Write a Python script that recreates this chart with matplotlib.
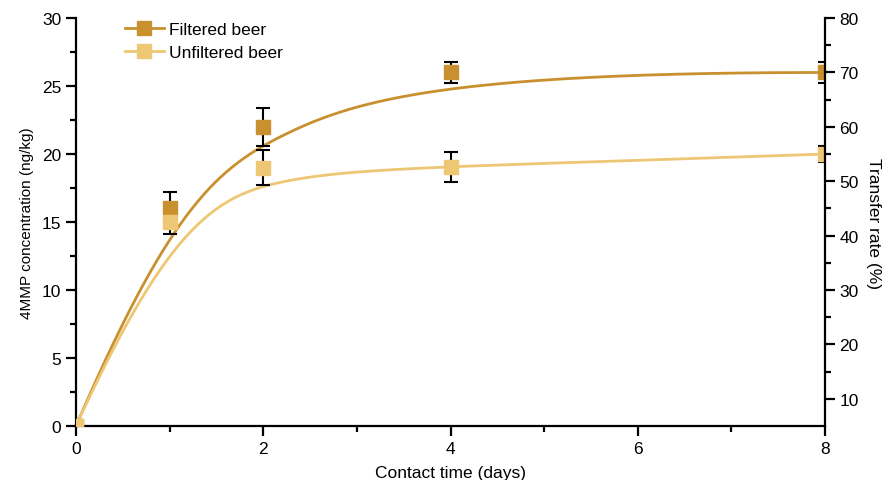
import numpy as np
import matplotlib.pyplot as plt

plt.rcParams['font.family'] = ['Liberation Sans', 'DejaVu Sans']

days = [0, 1, 2, 4, 8]
filtered = [0, 16, 22, 26, 26]
filtered_err = [0, 1.2, 1.4, 0.75, 0.77]
unfiltered = [0, 15, 19, 19.05, 20]
unfiltered_err = [0, 0.85, 1.3, 1.1, 0.6]

DARK = '#C8902F'
LIGHT = '#EDC773'


def bspline(xs, ys, k=3, n=400):
    # clamped cubic B-spline, data points used as control points (Origin "B-Spline" connect)
    pts = np.column_stack([xs, ys]).astype(float)
    m = len(pts)
    inner = np.linspace(0, 1, m - k + 1)[1:-1]
    knots = np.concatenate([np.zeros(k + 1), inner, np.ones(k + 1)])
    out = []
    for t in np.linspace(0, 1, n):
        i = np.searchsorted(knots, t, side='right') - 1
        i = min(i, m - 1)
        d = [pts[j].copy() for j in range(i - k, i + 1)]
        for r in range(1, k + 1):
            for j in range(k, r - 1, -1):
                den = knots[j + 1 + i - r] - knots[j + i - k]
                a = 0 if den == 0 else (t - knots[j + i - k]) / den
                d[j] = (1 - a) * d[j - 1] + a * d[j]
        out.append(d[k])
    out = np.array(out)
    return out[:, 0], out[:, 1]


fig = plt.figure(figsize=(8.88, 4.81), dpi=100)
ax = fig.add_axes([0.0856, 0.1123, 0.8435, 0.848])

for y, e, c, lab in [(filtered, filtered_err, DARK, 'Filtered beer'),
                     (unfiltered, unfiltered_err, LIGHT, 'Unfiltered beer')]:
    bx, by = bspline(days, y)
    ax.plot(bx, by, color=c, lw=2, zorder=2)
    ax.errorbar(days, y, yerr=e, fmt='none', ecolor='black', elinewidth=1.5,
                capsize=5, capthick=1.5, zorder=3)
    ax.plot(days, y, 's', color=c, ms=9.5, zorder=4)
    ax.plot([], [], '-s', color=c, ms=9.5, lw=2, label=lab)

ax.set_xlim(0, 8)
ax.set_ylim(0, 30)
ax.set_xticks([0, 2, 4, 6, 8])
ax.set_xticks([1, 3, 5, 7], minor=True)
ax.set_yticks(np.arange(0, 31, 5))
ax.set_yticks(np.arange(2.5, 30, 5), minor=True)
ax.spines['top'].set_visible(False)
ax.spines['right'].set_visible(False)
for s in ['left', 'bottom']:
    ax.spines[s].set_linewidth(1.6)
ax.tick_params(which='major', length=7, width=1.6, labelsize=12.5)
ax.tick_params(which='minor', length=4, width=1.6)
ax.set_xlabel('Contact time (days)', fontsize=12.5, labelpad=7)
ax.set_ylabel('4MMP concentration (ng/kg)', fontsize=11, labelpad=6)
ax.legend(loc='upper left', bbox_to_anchor=(0.045, 1.03), frameon=False,
          fontsize=12.5, handlelength=2.2, handletextpad=0.3, labelspacing=0.5)

ax2 = ax.twinx()
ax2.set_ylim(5, 80)
ax2.set_yticks(np.arange(10, 81, 10))
ax2.set_yticks(np.arange(15, 80, 10), minor=True)
for s in ['top', 'left', 'bottom']:
    ax2.spines[s].set_visible(False)
ax2.spines['right'].set_linewidth(1.6)
ax2.tick_params(which='major', length=7, width=1.6, labelsize=12.5)
ax2.tick_params(which='minor', length=4, width=1.6)
ax2.set_ylabel('Transfer rate (%)', fontsize=12.5, rotation=270, labelpad=16)

fig.savefig('out.png', dpi=100)
